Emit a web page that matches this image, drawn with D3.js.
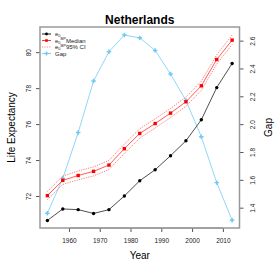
<!DOCTYPE html>
<html><head><meta charset="utf-8">
<script src="https://cdn.jsdelivr.net/npm/d3@7"></script>
<style>body{margin:0;background:#fff}svg{display:block;font-family:"Liberation Sans",Arial,sans-serif}</style>
</head><body><svg id="c" width="280" height="280"></svg>
<script>
const years = [1953,1958,1963,1968,1973,1978,1983,1988,1993,1998,2003,2008,2013];
const e0 = [70.64,71.28,71.24,71.03,71.24,72.00,72.85,73.46,74.24,75.07,76.24,78.03,79.37];
const median = [72.02,72.87,73.14,73.37,73.72,74.63,75.48,76.03,76.61,77.24,78.13,79.59,80.67];
const ciLow = [71.80,72.64,72.90,73.12,73.47,74.37,75.22,75.78,76.36,76.99,77.88,79.34,80.42];
const ciHigh = [72.26,73.11,73.39,73.62,73.98,74.89,75.74,76.29,76.87,77.50,78.39,79.85,80.95];
const gap = [1.36,1.61,1.94,2.31,2.52,2.64,2.62,2.53,2.36,2.17,1.91,1.58,1.31];
const xTicks = [1960,1970,1980,1990,2000,2010];
const yTicks = [72,74,76,78,80];
const gapTicks = [1.4,1.6,1.8,2.0,2.2,2.4,2.6];
const legendItems = ["e0","median","ci","gap"];

const svg = d3.select("#c");
const L=40, R=239.5, T=27, B=228;
const x = d3.scaleLinear().domain([1950.6,2015.4]).range([L,R]);
const y = d3.scaleLinear().domain([70.22,81.4]).range([B,T]);
const y2 = d3.scaleLinear().domain([1.254,2.698]).range([B,T]);

svg.append("text").attr("x",(L+R)/2).attr("y",24).attr("text-anchor","middle")
  .attr("font-weight","bold").attr("font-size",12).text("Netherlands");

const fmtTick = g => { g.select(".domain").remove(); g.selectAll("line").attr("stroke","#555"); g.selectAll("text").attr("fill","#222").attr("font-family","Liberation Sans, Arial, sans-serif"); };
svg.append("g").attr("transform",`translate(0,${B})`)
  .call(d3.axisBottom(x).tickValues(xTicks).tickFormat(d3.format("d")).tickSize(4).tickPadding(6))
  .attr("font-size",6.5).call(fmtTick);
svg.append("line").attr("x1",x(1960)).attr("x2",x(2010)).attr("y1",B).attr("y2",B).attr("stroke","#777");

const gl = svg.append("g").attr("transform",`translate(${L},0)`)
  .call(d3.axisLeft(y).tickValues(yTicks).tickSize(4).tickPadding(0))
  .attr("font-size",6.5).call(fmtTick);
gl.selectAll("text").attr("transform","rotate(-90)").attr("text-anchor","middle")
  .attr("x",0).attr("y",-9.5).attr("dy","0");

const gr = svg.append("g").attr("transform",`translate(${R},0)`)
  .call(d3.axisRight(y2).tickValues(gapTicks).tickFormat(d3.format(".1f")).tickSize(4))
  .attr("font-size",6.5).call(fmtTick);
gr.selectAll("text").attr("transform","rotate(-90)").attr("text-anchor","middle")
  .attr("x",0).attr("y",15).attr("dy","0");

svg.append("rect").attr("x",L).attr("y",T).attr("width",R-L).attr("height",B-T)
  .attr("fill","none").attr("stroke","#999").attr("stroke-width",1.5);

svg.append("text").attr("x",(L+R)/2).attr("y",259).attr("text-anchor","middle").attr("font-size",10).text("Year");
svg.append("text").attr("transform",`translate(15,${(T+B)/2}) rotate(-90)`).attr("text-anchor","middle").attr("font-size",10).text("Life Expectancy");
svg.append("text").attr("transform",`translate(272,${(T+B)/2}) rotate(-90)`).attr("text-anchor","middle").attr("font-size",10).text("Gap");

const idx = d3.range(years.length);
const line = (arr, sc) => d3.line().x(i=>x(years[i])).y(i=>sc(arr[i]))(idx);

const gapCol = "#82d2f6";
svg.append("path").attr("d",line(gap,y2)).attr("fill","none").attr("stroke",gapCol).attr("stroke-width",0.9);
svg.selectAll(".gp").data(idx).join("path").attr("class","gp")
  .attr("transform",i=>`translate(${x(years[i])},${y2(gap[i])})`)
  .attr("d",d3.symbol(d3.symbolCross,11)).attr("fill","#6ccaf2");

[ciLow,ciHigh].forEach(a=>svg.append("path").attr("d",line(a,y)).attr("fill","none")
  .attr("stroke","#ff6a6a").attr("stroke-width",0.9).attr("stroke-dasharray","1.2,1.2"));
svg.append("path").attr("d",line(median,y)).attr("fill","none").attr("stroke","#ff3030").attr("stroke-width",0.8);
svg.selectAll(".md").data(idx).join("rect").attr("class","md")
  .attr("x",i=>x(years[i])-1.7).attr("y",i=>y(median[i])-1.7).attr("width",3.4).attr("height",3.4).attr("fill","#ff0000");

svg.append("path").attr("d",line(e0,y)).attr("fill","none").attr("stroke","#222").attr("stroke-width",0.8);
svg.selectAll(".e0").data(idx).join("circle").attr("class","e0")
  .attr("cx",i=>x(years[i])).attr("cy",i=>y(e0[i])).attr("r",1.7).attr("fill","#000");

const lg = svg.append("g");
const rows = [34,40.5,47,53.5];
legendItems.forEach((k,j)=>{
  const yy = rows[j];
  const g = lg.append("g");
  if(k==="e0"){ g.append("line").attr("x1",42).attr("x2",51).attr("y1",yy).attr("y2",yy).attr("stroke","#000").attr("stroke-width",0.9);
    g.append("circle").attr("cx",46.5).attr("cy",yy).attr("r",1.4).attr("fill","#000"); }
  if(k==="median"){ g.append("line").attr("x1",42).attr("x2",51).attr("y1",yy).attr("y2",yy).attr("stroke","#ff2020").attr("stroke-width",0.9);
    g.append("rect").attr("x",45.2).attr("y",yy-1.3).attr("width",2.6).attr("height",2.6).attr("fill","#f00"); }
  if(k==="ci"){ g.append("line").attr("x1",42).attr("x2",51).attr("y1",yy).attr("y2",yy).attr("stroke","#ff8888").attr("stroke-dasharray","1.2,1.2"); }
  if(k==="gap"){ g.append("line").attr("x1",42).attr("x2",51).attr("y1",yy).attr("y2",yy).attr("stroke",gapCol);
    g.append("path").attr("transform",`translate(46.5,${yy})`).attr("d",d3.symbol(d3.symbolCross,9)).attr("fill","#6ccaf2"); }
  const t = g.append("text").attr("x",55).attr("y",yy+2).attr("font-size",6).attr("fill","#222");
  if(k==="gap"){ t.text("Gap"); }
  else {
    t.append("tspan").text("e");
    t.append("tspan").attr("font-size",4).attr("dy",1.2).text("0");
    if(k!=="e0"){
      t.append("tspan").attr("font-size",4).attr("dy",-3.6).text("BP");
      t.append("tspan").attr("dy",2.4).text(k==="median"?"Median":"95% CI");
    }
  }
});
</script></body></html>
